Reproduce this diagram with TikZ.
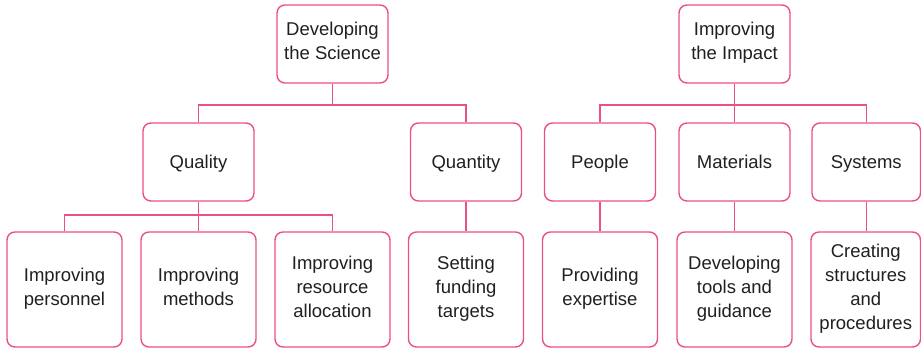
\documentclass[tikz,border=0pt]{standalone}
\usepackage{fontspec}
\setmainfont{Liberation Sans}
\definecolor{linkpink}{HTML}{EC4F86}
\definecolor{inkgray}{HTML}{231F20}
% fixed line strut so every box places its lines the same way
\newcommand{\boxstrut}{\rule[-6pt]{0pt}{24pt}}
\begin{document}
\begin{tikzpicture}[x=1pt,y=-1pt,
  box/.style={draw=linkpink, line width=1.4pt, rounded corners=8pt, fill=white,
    text=inkgray, align=center, inner sep=0pt,
    font=\fontsize{18.5}{24}\selectfont,
    execute at begin node=\boxstrut, execute at end node=\boxstrut},
  topbox/.style={box, minimum width=111pt, minimum height=78pt},
  midbox/.style={box, minimum width=111pt, minimum height=78pt},
  leafbox/.style={box, minimum width=115pt, minimum height=115pt},
  link/.style={draw=linkpink, line width=1.4pt}]
\useasboundingbox (0,0) rectangle (921,348);

% level 0
\node[topbox] (dev) at (332.5,44) {Developing\\the Science};
\node[topbox] (imp) at (734.5,44) {Improving\\the Impact};

% level 1
\node[midbox] (qual) at (198.5,162) {Quality};
\node[midbox] (quan) at (466,162) {Quantity};
\node[midbox] (peop) at (600,162) {People};
\node[midbox] (mat)  at (734.5,162) {Materials};
\node[midbox, minimum width=108.5pt] (sys) at (866.25,162) {Systems};

% level 2
\node[leafbox] (pers) at (64.5,289.5) {Improving\\personnel};
\node[leafbox] (meth) at (198.5,289.5) {Improving\\methods};
\node[leafbox] (res)  at (332.5,289.5) {Improving\\resource\\allocation};
\node[leafbox] (fund) at (466,289.5) {Setting\\funding\\targets};
\node[leafbox] (expt) at (600,289.5) {Providing\\expertise};
\node[leafbox] (tool) at (734.5,289.5) {Developing\\tools and\\guidance};
\node[leafbox, minimum width=109.5pt] (proc) at (865.75,289.5) {Creating\\structures\\and\\procedures};

% bus junctions
\coordinate (jdev) at (332.5,105);
\coordinate (jimp) at (734.5,105);
\coordinate (jqual) at (198.5,215);

% Developing the Science
\draw[link] (dev.south) -- (jdev);
\draw[link] (qual.north) |- (jdev) -| (quan.north);

% Improving the Impact
\draw[link] (imp.south) -- (mat.north);
\draw[link] (peop.north) |- (jimp) -| (sys.north);

% Quality
\draw[link] (qual.south) -- (meth.north);
\draw[link] (pers.north) |- (jqual) -| (res.north);

% single children
\draw[link] (quan.south) -- (fund.north);
\draw[link] (peop.south) -- (expt.north);
\draw[link] (mat.south) -- (tool.north);
\draw[link] (sys.south) -- (sys.south |- proc.north);
\end{tikzpicture}
\end{document}
